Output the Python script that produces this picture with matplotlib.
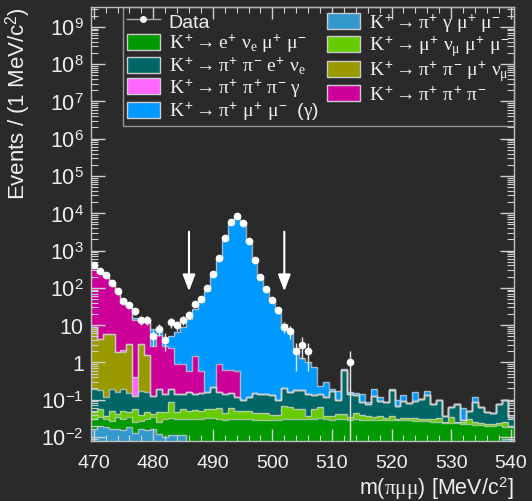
import numpy as np
import matplotlib
matplotlib.use("Agg")
import matplotlib.pyplot as plt
from matplotlib.patches import Patch, Rectangle
from matplotlib.lines import Line2D
from matplotlib.legend_handler import HandlerPatch
from matplotlib.ticker import MultipleLocator, LogLocator, NullFormatter

plt.rcParams['font.family'] = 'Liberation Sans'
plt.rcParams['mathtext.fontset'] = 'custom'
plt.rcParams['mathtext.rm'] = 'Liberation Sans'
plt.rcParams['mathtext.sf'] = 'Liberation Sans'
plt.rcParams['mathtext.it'] = 'Liberation Serif'

# 1 MeV bins centred on 470 ... 540
edges = np.arange(469.5, 541.5, 1.0)

# expected events per bin, one list per process (stack order bottom -> top)
k_pgmm = [.016, .020, .018, .016, .016, .015, .018, .013, .016, .015,
          .016, .012, .010, .011, .011, .011, .004, .003, .003, .004,
          .003, .003, .004, .003, .003, .003, .004, .003, .003, .003,
          .003, .004, .003, .003, .003, .003, .003, .004, .003, .003,
          .003, .003, .003, .003, .004, .003, .003, .003, .003, .003,
          .003, .003, .003, .004, .003, .003, .003, .003, .003, .003,
          .003, .003, .003, .003, .003, .003, .003, .003, .004, .009,
          .009]
k_enmm = [.014, .014, .012, .0115, .018, .015, .016, .012, .0115, .015,
          .018, .013, .020, .021, .019, .020, .027, .028, .027, .028,
          .029, .028, .025, .027, .027, .027, .027, .026, .026, .026,
          .026, .025, .027, .027, .027, .028, .027, .027, .029, .027,
          .026, .027, .027, .026, .027, .026, .026, .026, .026, .025,
          .025, .025, .025, .024, .024, .024, .024, .023, .022, .021,
          .020, .020, .019, .019, .018, .018, .017, .017, .017, .010,
          .009]
k_mnmm = [.016, .022, .007, .0235, .007, .021, .012, .031, .0115, .016,
          .007, .021, .016, .053, .018, .024, .020, .021, .019, .024,
          .026, .029, .016, .030, .020, .020, .020, .016, .016, .014,
          .011, .010, .039, .033, .028, .025, .007, .026, .031, .007,
          .008, .012, .012, .006, .013, .011, .008, .006, .008, .005,
          .008, .003, .005, .004, .006, .003, .004, .004, .007, .002,
          .012, .003, .003, .008, .004, .003, .002, .002, .002, .006,
          .002]
k_ppen = [.148, .124, .079, .143, .118, .143, .104, .072, .136, .114,
          .087, .144, .094, .105, .092, .090, .110, .088, .101, .105,
          .157, .100, .096, .090, .066, .046, .066, .105, .095, .097,
          .090, .058, .131, .097, .128, .124, .103, .079, .077, .079,
          .133, .054, .578, .105, .087, .045, .040, .088, .058, .052,
          .150, .038, .057, .049, .062, .075, .104, .047, .068, .011,
          .028, .051, .004, .020, .060, .039, .024, .021, .055, .075,
          .014]
k_ppmn = [8.5, 4.12, 5.68, 5.6, 1.74, 1.7, 2.95, 0, 2.9, 1.44,
          0, 0, 0, 0, 0, 0, 0, 0, 0, 0,
          0, 0, 0, 0, 0, 0, 0, 0, 0, 0,
          0, 0, 0, 0, 0, 0, 0, 0, 0, 0,
          0, 0, 0, 0, 0, 0, 0, 0, 0, 0,
          0, 0, 0, 0, 0, 0, 0, 0, 0, 0,
          0, 0, 0, 0, 0, 0, 0, 0, 0, 0,
          0]
k_pppg = [0, 0, 0, 0, 0, 0.3, 0, 0.27, 0, 0,
          0, 0, 0, 0, 0, 0, 0, 0, 0, 0,
          0, 0, 0, 0, 0, 0, 0, 0, 0, 0,
          0, 0, 0, 0, 0, 0, 0, 0, 0, 0,
          0, 0, 0, 0, 0, 0, 0, 0, 0, 0,
          0, 0, 0, 0, 0, 0, 0, 0, 0, 0,
          0, 0, 0, 0, 0, 0, 0, 0, 0, 0,
          0]
k_ppp = [346, 265.7, 204, 120, 74, 47.8, 26.9, 13.6, 9.9, 11.4,
         2.67, 5.3, 2.66, 2.21, 0.76, 0.755, 0.44, 1.31, 0.45, 0,
         0, 0.74, 0.48, 0.47, 0.48, 0, 0, 0, 0, 0,
         0, 0, 0, 0, 0, 0, 0, 0, 0, 0,
         0, 0, 0, 0, 0, 0, 0, 0, 0, 0,
         0, 0, 0, 0, 0, 0, 0, 0, 0, 0,
         0, 0, 0, 0, 0, 0, 0, 0, 0, 0,
         0]
k_pmm = [0, 0, 0, 0, 0, 0, 0, 2, 2, 2,
         5.2, 1.5, 1.4, 2.6, 5.7, 7.8, 13.9, 25.5, 40.4, 82.8,
         218, 589, 1949, 5799, 8599, 5460, 1840, 556, 199, 93,
         48, 22, 10.5, 6.9, 2.3, 1.12, 0.86, 0.635, 0.10, 0.184,
         0.02, 0.074, 0.06, 0.02, 0.02, 0.055, 0.008, 0.067, 0.025, 0,
         0.004, 0.031, 0.04, 0, 0.065, 0, 0.035, 0, 0, 0,
         0, 0, 0.03, 0, 0.031, 0, 0, 0, 0, 0,
         0]

data_mass = [470, 471, 472, 473, 474, 475, 476, 477, 478, 479,
             480, 481, 482, 483, 484, 485, 486, 487, 488, 489,
             490, 491, 492, 493, 494, 495, 496, 497, 498, 499,
             500, 501, 502, 503, 504, 505, 506, 513]
data_counts = [415, 277, 219, 135, 82, 45, 35, 24, 14, 14,
               5, 8, 4, 12, 10, 14, 19, 37, 50, 97,
               235, 645, 2130, 5900, 8600, 5460, 1840, 556, 199, 93,
               48, 25, 9, 7, 2, 3, 2, 1]

cut_lo, cut_hi = 486, 502

stack = [
    (k_pgmm, '#3399cc', r'$K^{+}\rightarrow\pi^{+}\ \gamma\ \mu^{+}\ \mu^{-}$'),
    (k_enmm, '#009900', r'$K^{+}\rightarrow e^{+}\ \nu_{e}\ \mu^{+}\ \mu^{-}$'),
    (k_mnmm, '#66cc00', r'$K^{+}\rightarrow\mu^{+}\ \nu_{\mu}\ \mu^{+}\ \mu^{-}$'),
    (k_ppen, '#006666', r'$K^{+}\rightarrow\pi^{+}\ \pi^{-}\ e^{+}\ \nu_{e}$'),
    (k_ppmn, '#999900', r'$K^{+}\rightarrow\pi^{+}\ \pi^{-}\ \mu^{+}\ \nu_{\mu}$'),
    (k_pppg, '#ff66ff', r'$K^{+}\rightarrow\pi^{+}\ \pi^{+}\ \pi^{-}\ \gamma$'),
    (k_ppp, '#cc0099', r'$K^{+}\rightarrow\pi^{+}\ \pi^{+}\ \pi^{-}$'),
    (k_pmm, '#0099ff', r'$K^{+}\rightarrow\pi^{+}\ \mu^{+}\ \mu^{-}\ \ (\gamma)$'),
]

fig = plt.figure(figsize=(5.32, 5.02), dpi=100)
fig.patch.set_facecolor('#2a2a2a')
ax = fig.add_axes([0.1705, 0.1195, 0.795, 0.8655])
ax.set_facecolor('none')
ax.set_yscale('log', nonpositive='clip')

# stacked histograms
bottom = np.full(len(edges) - 1, 1e-5)
tops = []
handles = {}
for vals, col, lab in stack:
    top = bottom + np.array(vals, dtype=float)
    ax.stairs(top, edges, baseline=bottom, fill=True, color=col, lw=0)
    tops.append(top)
    handles[lab] = Patch(facecolor=col, edgecolor='#cccccc', lw=1)
    bottom = top
for top in tops:
    ax.stairs(top, edges, baseline=None, color='#d0d0d0', lw=1, alpha=0.75)

# data
cnt = np.array(data_counts, dtype=float)
ax.errorbar(data_mass, cnt, yerr=np.sqrt(cnt), xerr=0.5, fmt='o', ms=4.5,
            color='white', ecolor='#e8e8e8', elinewidth=1, capsize=0)

# signal region arrows
for xc in (cut_lo, cut_hi):
    ax.annotate('', xy=(xc, 81), xytext=(xc, 3200),
                arrowprops=dict(arrowstyle='-|>,head_length=0.5,head_width=0.19',
                                color='white', lw=1.5, mutation_scale=20,
                                shrinkA=0, shrinkB=0))

ax.set_xlim(469.5, 540.5)
ax.set_ylim(0.0078, 3.5e9)
ax.xaxis.set_major_locator(MultipleLocator(10))
ax.xaxis.set_minor_locator(MultipleLocator(2))
yt = [1e-2, 1e-1, 1, 10, 1e2, 1e3, 1e4, 1e5, 1e6, 1e7, 1e8, 1e9]
ytl = [r'$10^{-2}$', r'$10^{-1}$', '1', '10', r'$10^{2}$', r'$10^{3}$', r'$10^{4}$',
       r'$10^{5}$', r'$10^{6}$', r'$10^{7}$', r'$10^{8}$', r'$10^{9}$']
ax.set_yticks(yt)
ax.set_yticklabels(ytl)
ax.yaxis.set_minor_locator(LogLocator(base=10, subs=np.arange(2, 10), numticks=50))
ax.yaxis.set_minor_formatter(NullFormatter())

ax.tick_params(which='both', direction='in', top=True, right=True,
               color='#d0d0d0', labelcolor='#f0f0f0', labelsize=14)
ax.tick_params(axis='y', which='major', length=10, width=1, pad=5, labelsize=15.5)
ax.tick_params(axis='y', which='minor', length=5, width=0.8)
ax.tick_params(axis='x', which='major', length=8.5, width=1, pad=9)
ax.tick_params(axis='x', which='minor', length=4.3, width=0.8)
for sp in ax.spines.values():
    sp.set_color('#c0c0c0')
    sp.set_linewidth(1)

ax.set_xlabel(r'm($\pi\mu\mu$) [MeV/c$^{2}$]', fontsize=15.5, color='#f0f0f0', loc='right')
ax.xaxis.set_label_coords(1.0, -0.078)
ax.set_ylabel(r'Events / (1 MeV/c$^{2}$)', fontsize=16, color='#f0f0f0', loc='top')
ax.yaxis.set_label_coords(-0.137, 1.0)


# legend boxes smaller than the row height
def box(legend, orig_handle, xdescent, ydescent, width, height, fontsize):
    h = 11.5
    return Rectangle((-xdescent, -ydescent + (height - h) / 2), width, h)


labs = [s[2] for s in stack]
data_h = Line2D([0], [0], color='#aaaaaa', lw=1, marker='o', ms=4,
                markerfacecolor='white', markeredgecolor='white')
order = [1, 3, 5, 7, 0, 2, 4, 6]
leg_h = [data_h] + [handles[labs[i]] for i in order]
leg_l = ['Data'] + [labs[i] for i in order]
leg = ax.legend(leg_h, leg_l, ncol=2, loc='upper left', mode='expand',
                bbox_to_anchor=(0.076, 0.0, 0.924, 1.0), borderaxespad=0,
                fontsize=14, labelcolor='#f0f0f0', frameon=True, fancybox=False,
                edgecolor='#b0b0b0', facecolor='none', handlelength=1.7,
                handleheight=1.25, handletextpad=0.45, labelspacing=0.0,
                borderpad=0.2, columnspacing=1.0,
                handler_map={Patch: HandlerPatch(patch_func=box)})
leg.get_frame().set_linewidth(1)

fig.savefig('out.png', dpi=100, facecolor=fig.get_facecolor())
